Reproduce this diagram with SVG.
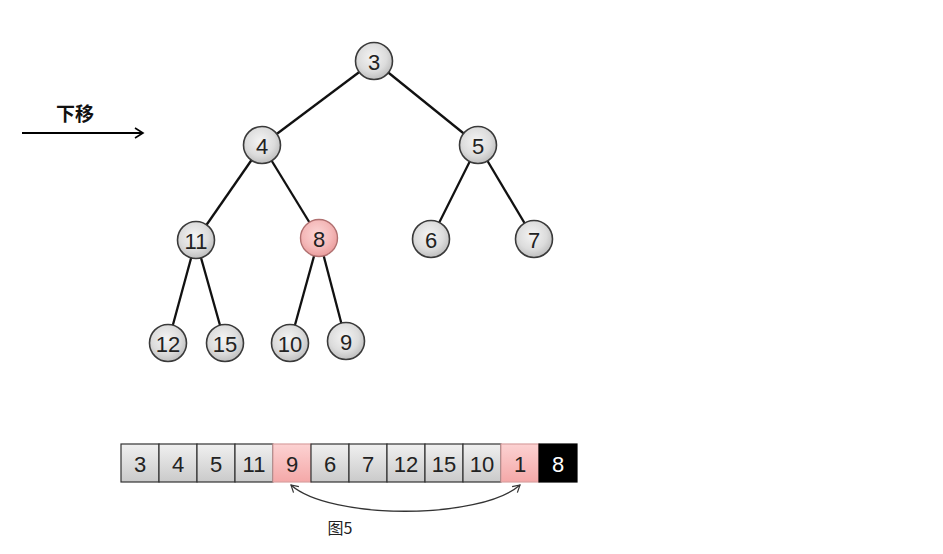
<svg xmlns="http://www.w3.org/2000/svg" width="943" height="554" viewBox="0 0 943 554">
<defs>
<radialGradient id="gn" cx="0.45" cy="0.4" r="0.65">
<stop offset="0" stop-color="#f4f4f4"/><stop offset="0.6" stop-color="#dcdcdc"/><stop offset="1" stop-color="#b8b8b8"/>
</radialGradient>
<radialGradient id="gp" cx="0.45" cy="0.4" r="0.65">
<stop offset="0" stop-color="#fbd6d6"/><stop offset="0.6" stop-color="#f4b8b8"/><stop offset="1" stop-color="#e89898"/>
</radialGradient>
<linearGradient id="cg" x1="0" y1="0" x2="0" y2="1">
<stop offset="0" stop-color="#f0f0f0"/><stop offset="1" stop-color="#cacaca"/>
</linearGradient>
<linearGradient id="cp" x1="0" y1="0" x2="0" y2="1">
<stop offset="0" stop-color="#fcd2d2"/><stop offset="1" stop-color="#f4a8a8"/>
</linearGradient>
<marker id="open" markerWidth="14" markerHeight="14" refX="10" refY="6" orient="auto" markerUnits="userSpaceOnUse">
<path d="M2,1 L10,6 L2,11" fill="none" stroke="#000" stroke-width="1.6"/>
</marker>
<marker id="thin" markerWidth="12" markerHeight="12" refX="8" refY="5" orient="auto-start-reverse" markerUnits="userSpaceOnUse">
<path d="M1,1 L8,5 L1,9" fill="none" stroke="#333" stroke-width="1.2"/>
</marker>
</defs>
<style>
.n{fill:url(#gn);stroke:#3a3a3a;stroke-width:1.6}
.np{fill:url(#gp);stroke:#b07070;stroke-width:1.4}
.t{font-family:"Liberation Sans","DejaVu Sans",sans-serif;font-size:22px;fill:#222;text-anchor:middle;dominant-baseline:central}
.e{stroke:#111;stroke-width:2.3;fill:none}
.c{fill:url(#cg);stroke:#333;stroke-width:1.2}
.cpk{fill:url(#cp);stroke:#d9a0a0;stroke-width:1.2}
.cb{fill:#000;stroke:#000;stroke-width:1.2}
</style>
<g id="connectors">
<line class="e" x1="374" y1="61" x2="262" y2="145"/>
<line class="e" x1="374" y1="61" x2="478" y2="145"/>
<line class="e" x1="262" y1="145" x2="196" y2="240"/>
<line class="e" x1="262" y1="145" x2="319" y2="238"/>
<line class="e" x1="478" y1="145" x2="431" y2="239"/>
<line class="e" x1="478" y1="145" x2="534" y2="239"/>
<line class="e" x1="196" y1="240" x2="168" y2="343"/>
<line class="e" x1="196" y1="240" x2="225" y2="343"/>
<line class="e" x1="319" y1="238" x2="290" y2="343"/>
<line class="e" x1="319" y1="238" x2="346" y2="341"/>
<line x1="22" y1="133" x2="143" y2="133" stroke="#000" stroke-width="1.8" marker-end="url(#open)"/>
<path d="M291,485 C330,520 480,520 520,485" fill="none" stroke="#333" stroke-width="1.3" marker-start="url(#thin)" marker-end="url(#thin)"/>
</g>
<g id="n3"><circle class="n" cx="374" cy="61" r="18.5"/><text class="t" x="374" y="62">3</text></g>
<g id="n4"><circle class="n" cx="262" cy="145" r="18.5"/><text class="t" x="262" y="146">4</text></g>
<g id="n5"><circle class="n" cx="478" cy="145" r="18.5"/><text class="t" x="478" y="146">5</text></g>
<g id="n11"><circle class="n" cx="196" cy="240" r="18.5"/><text class="t" x="196" y="241">11</text></g>
<g id="n8"><circle class="np" cx="319" cy="238" r="18.5"/><text class="t" x="319" y="239">8</text></g>
<g id="n6"><circle class="n" cx="431" cy="239" r="18.5"/><text class="t" x="431" y="240">6</text></g>
<g id="n7"><circle class="n" cx="534" cy="239" r="18.5"/><text class="t" x="534" y="240">7</text></g>
<g id="n12"><circle class="n" cx="168" cy="343" r="18.5"/><text class="t" x="168" y="344">12</text></g>
<g id="n15"><circle class="n" cx="225" cy="343" r="18.5"/><text class="t" x="225" y="344">15</text></g>
<g id="n10"><circle class="n" cx="290" cy="343" r="18.5"/><text class="t" x="290" y="344">10</text></g>
<g id="n9"><circle class="n" cx="346" cy="341" r="18.5"/><text class="t" x="346" y="342">9</text></g>
<g id="array">
<rect class="c" x="121" y="444" width="38" height="38"/><text class="t" x="140" y="464">3</text>
<rect class="c" x="159" y="444" width="38" height="38"/><text class="t" x="178" y="464">4</text>
<rect class="c" x="197" y="444" width="38" height="38"/><text class="t" x="216" y="464">5</text>
<rect class="c" x="235" y="444" width="38" height="38"/><text class="t" x="254" y="464">11</text>
<rect class="cpk" x="273" y="444" width="38" height="38"/><text class="t" x="292" y="464">9</text>
<rect class="c" x="311" y="444" width="38" height="38"/><text class="t" x="330" y="464">6</text>
<rect class="c" x="349" y="444" width="38" height="38"/><text class="t" x="368" y="464">7</text>
<rect class="c" x="387" y="444" width="38" height="38"/><text class="t" x="406" y="464">12</text>
<rect class="c" x="425" y="444" width="38" height="38"/><text class="t" x="444" y="464">15</text>
<rect class="c" x="463" y="444" width="38" height="38"/><text class="t" x="482" y="464">10</text>
<rect class="cpk" x="501" y="444" width="38" height="38"/><text class="t" x="520" y="464">1</text>
<rect class="cb" x="539" y="444" width="38" height="38"/><text class="t" x="558" y="464" style="fill:#fff">8</text>
</g>
<text x="75" y="112" font-family="'Noto Sans CJK SC',sans-serif" font-size="19" font-weight="bold" text-anchor="middle" dominant-baseline="central" fill="#111">下移</text>
<text x="340" y="527" font-family="'Noto Sans CJK SC',sans-serif" font-size="16" text-anchor="middle" dominant-baseline="central" fill="#222">图5</text>
</svg>
